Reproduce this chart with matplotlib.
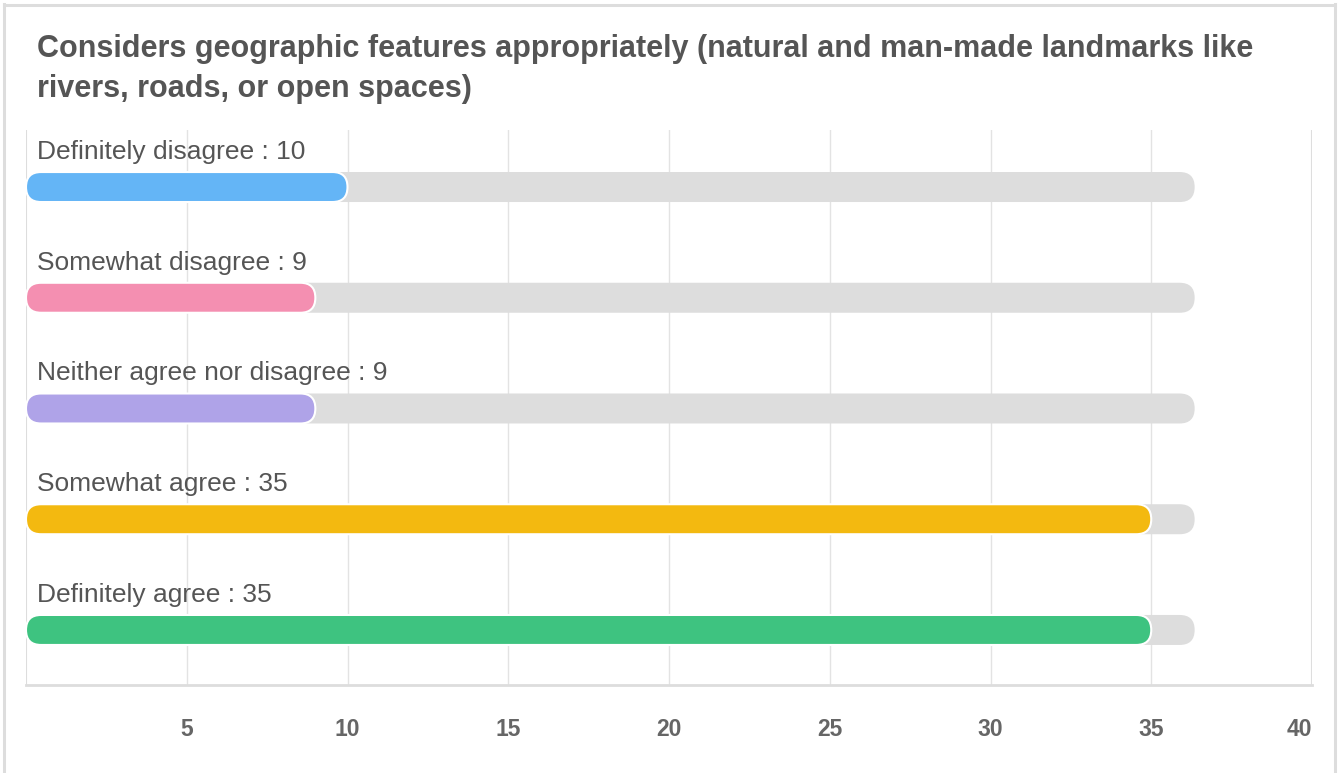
import matplotlib
matplotlib.use("Agg")
import matplotlib.pyplot as plt
from matplotlib.patches import FancyBboxPatch
from matplotlib.lines import Line2D

# ---- data ----
categories = ["Definitely disagree", "Somewhat disagree", "Neither agree nor disagree",
              "Somewhat agree", "Definitely agree"]
values = [10, 9, 9, 35, 35]
track_max = 36.35
colors = ["#64B5F6", "#F48FB1", "#AFA3E8", "#F3B910", "#3EC380"]
track_color = "#DDDDDD"
xticks = [5, 10, 15, 20, 25, 30, 35, 40]
title = ("Considers geographic features appropriately (natural and man-made landmarks like\n"
         "rivers, roads, or open spaces)")

W, H = 1338, 773
fig = plt.figure(figsize=(W / 100, H / 100), dpi=100)
fig.patch.set_facecolor("white")

# outer border
fig.add_artist(Line2D([3.5 / W, 3.5 / W], [0, 1 - 4 / H], transform=fig.transFigure, color="#DDDDDD", lw=2.2))
fig.add_artist(Line2D([3.5 / W, 1334.5 / W], [1 - 4.5 / H, 1 - 4.5 / H], transform=fig.transFigure, color="#DDDDDD", lw=2.2))
fig.add_artist(Line2D([1334.5 / W, 1334.5 / W], [0, 1 - 4 / H], transform=fig.transFigure, color="#DDDDDD", lw=2.2))

ax_l, ax_r, ax_t, ax_b = 26, 1312, 130, 685
ax = fig.add_axes([ax_l / W, 1 - ax_b / H, (ax_r - ax_l) / W, (ax_b - ax_t) / H])
ax.set_xlim(0, 40)
ylo, yhi = 4.497, -0.515
ax.set_ylim(ylo, yhi)

px_per_x = (ax_r - ax_l) / 40.0
px_per_y = (ax_b - ax_t) / (ylo - yhi)
bar_px = 30.0
bar_h = bar_px / px_per_y
r_x = (bar_px / 2) / px_per_x
aspect = px_per_x / px_per_y

for s in ["top", "left", "right"]:
    ax.spines[s].set_visible(False)
ax.spines["bottom"].set_color("#DDDDDD")
ax.spines["bottom"].set_linewidth(2)
ax.set_xticks(xticks)
ax.set_xticklabels([str(t) for t in xticks], fontsize=16.5, fontweight="bold",
                   color="#666666", family="Liberation Sans")
ax.tick_params(axis="x", length=0, pad=24)
labels = ax.get_xticklabels()
labels[-1].set_horizontalalignment("right")
ax.set_yticks([])
ax.grid(axis="x", color="#E3E3E3", lw=1)
ax.set_axisbelow(True)
ax.axvline(0, color="#DDDDDD", lw=1.5, zorder=0.5)
ax.axvline(40, color="#DDDDDD", lw=1.5, zorder=0.5)

for i, (cat, v, c) in enumerate(zip(categories, values, colors)):
    y0 = i - bar_h / 2
    track = FancyBboxPatch((0, y0), track_max, bar_h,
                           boxstyle=f"round,pad=0,rounding_size={r_x}",
                           mutation_aspect=aspect, fc=track_color, ec="none", zorder=2)
    ax.add_patch(track)
    bar = FancyBboxPatch((0, y0), v, bar_h,
                         boxstyle=f"round,pad=0,rounding_size={r_x}",
                         mutation_aspect=aspect, fc=c, ec="white", lw=1.5, zorder=3)
    ax.add_patch(bar)
    ax.text(11 / px_per_x, i - 35 / px_per_y, f"{cat} : {v}", fontsize=19,
            color="#555555", family="Liberation Sans", va="center", ha="left", zorder=4)

fig.text(37 / W, 1 - 69 / H, title, fontsize=22, fontweight="bold", color="#555555",
         family="Liberation Sans", va="center", ha="left", linespacing=1.45)

fig.savefig("out.png", dpi=100)
